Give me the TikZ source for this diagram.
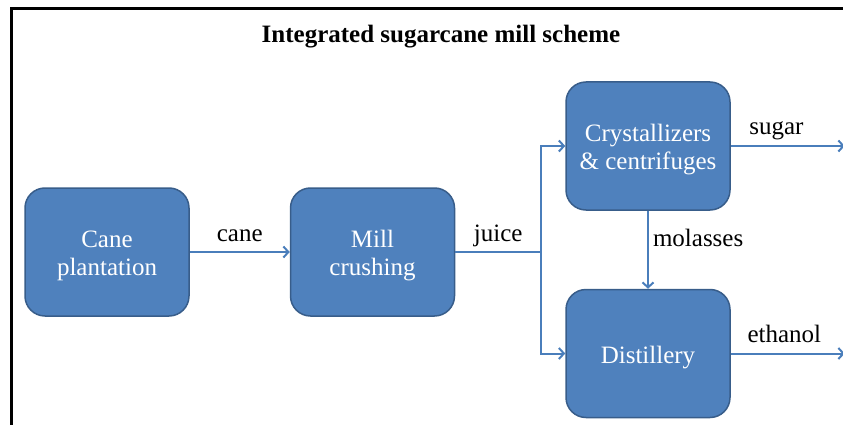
\documentclass[tikz,border=0pt]{standalone}
\usepackage{fontspec}
\setmainfont{Liberation Serif}
\usetikzlibrary{
  arrows.meta,
  positioning
}
\definecolor{procblue}{RGB}{79,129,189}
\definecolor{procedge}{RGB}{56,93,138}
\definecolor{flowblue}{RGB}{74,126,187}
\newcommand{\boxstrut}{\rule{0pt}{25pt}}

\begin{document}
\begin{tikzpicture}[
    x=1pt, y=-1pt,
    font=\fontsize{25}{28}\selectfont,
    >={Straight Barb[length=5pt,width=11pt]},
    procbox/.style={draw=procedge, line width=1.5pt, fill=procblue, rounded corners=20pt, minimum width=164pt, minimum height=128pt, align=center, text=white, inner sep=0pt},
    flowline/.style={draw=flowblue, line width=2pt},
    flow/.style={flowline, ->},
    flowlabel/.style={text=black, text depth=0pt, inner sep=3pt},
]
\useasboundingbox (0,0) rectangle (843,425);

% === Frame and title ===
\draw[line width=3pt] (11,425) -- (11,9) -- (843,9);
\node[font=\fontsize{25}{28}\selectfont\bfseries] (title) at (441,37) {Integrated sugarcane mill scheme};

% === Process boxes ===
\node[procbox] (cane) at (107,252) {\boxstrut Cane\\plantation};
\node[procbox, right=100pt of cane] (mill) {\boxstrut Mill\\crushing};
\node[procbox, right=110pt of mill, yshift=106pt] (cryst) {\boxstrut Crystallizers\\\& centrifuges};
\node[procbox, below=78pt of cryst] (still) {\boxstrut Distillery};

% === Flows ===
\coordinate[right=86pt of mill] (split);
\coordinate[right=114pt of cryst.east] (sugarend);
\coordinate[right=114pt of still.east] (ethanolend);

\draw[flow] (cane) -- node[flowlabel, above=7pt] {cane} (mill);
\draw[flowline] (mill) -- node[flowlabel, above=7pt] {juice} (split);
\draw[flow] (split) |- (cryst);
\draw[flow] (split) |- (still);
\draw[flow] (cryst) -- node[flowlabel, right=1pt, pos=0.35] {molasses} (still);
\draw[flow] (cryst) -- node[flowlabel, above=7pt, pos=0.4] {sugar} (sugarend);
\draw[flow] (still) -- node[flowlabel, above=7pt, pos=0.47] {ethanol} (ethanolend);

\end{tikzpicture}
\end{document}
